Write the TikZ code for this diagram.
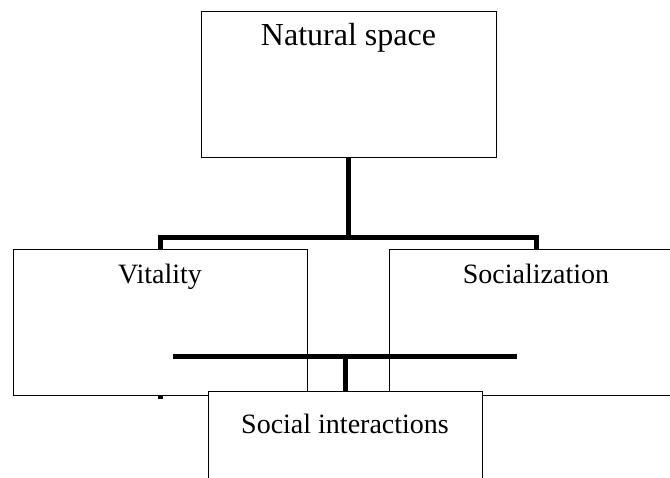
\documentclass[tikz,border=0pt]{standalone}
\usepackage{fontspec}
\setmainfont{Liberation Serif}
\usetikzlibrary{positioning, backgrounds}
\pgfdeclarelayer{front}
\pgfsetlayers{background,main,front}

\begin{document}
\begin{tikzpicture}[
    x=1pt, y=1pt,
    node distance=81pt,
    box/.style={rectangle, draw, fill=white, line width=1pt, minimum width=294pt, minimum height=146pt, inner sep=0pt},
    title/.style={anchor=north, inner sep=0pt, font=\fontsize{28}{32}\selectfont},
    link/.style={line width=5pt}
]
\useasboundingbox (0,0) rectangle (670,478);
\clip (0,0) rectangle (670,478);

% Top box
\node[box, minimum width=295pt, label={[title, yshift=-12pt, font=\fontsize{32}{38}\selectfont]north:Natural space}] (natural) at (348.5,393) {};

% Middle layer
\node[box, label={[title, yshift=-14pt]north:Vitality}] (vitality) at (160,155) {};
\node[box, right=of vitality, label={[title, yshift=-14pt]north:Socialization}] (socialization) {};

% Bottom box
\begin{pgfonlayer}{front}
\node[box, minimum width=274pt, label={[title, yshift=-22pt]north:Social interactions}] (interactions) at (345,13) {};
\end{pgfonlayer}

% Links
\coordinate (fork) at ([yshift=-79pt]natural.south);
\coordinate (join) at ([yshift=35pt]interactions.north);
\begin{scope}[on background layer]
\draw[link] (natural.south) -- (fork);
\draw[link] ([yshift=-3pt]vitality.south) -- (vitality.north |- fork) -| (socialization.north);
\end{scope}
\draw[link] ([xshift=-172pt]join) -- ([xshift=172pt]join);
\draw[link] (join) -- (interactions.north);

\end{tikzpicture}
\end{document}
